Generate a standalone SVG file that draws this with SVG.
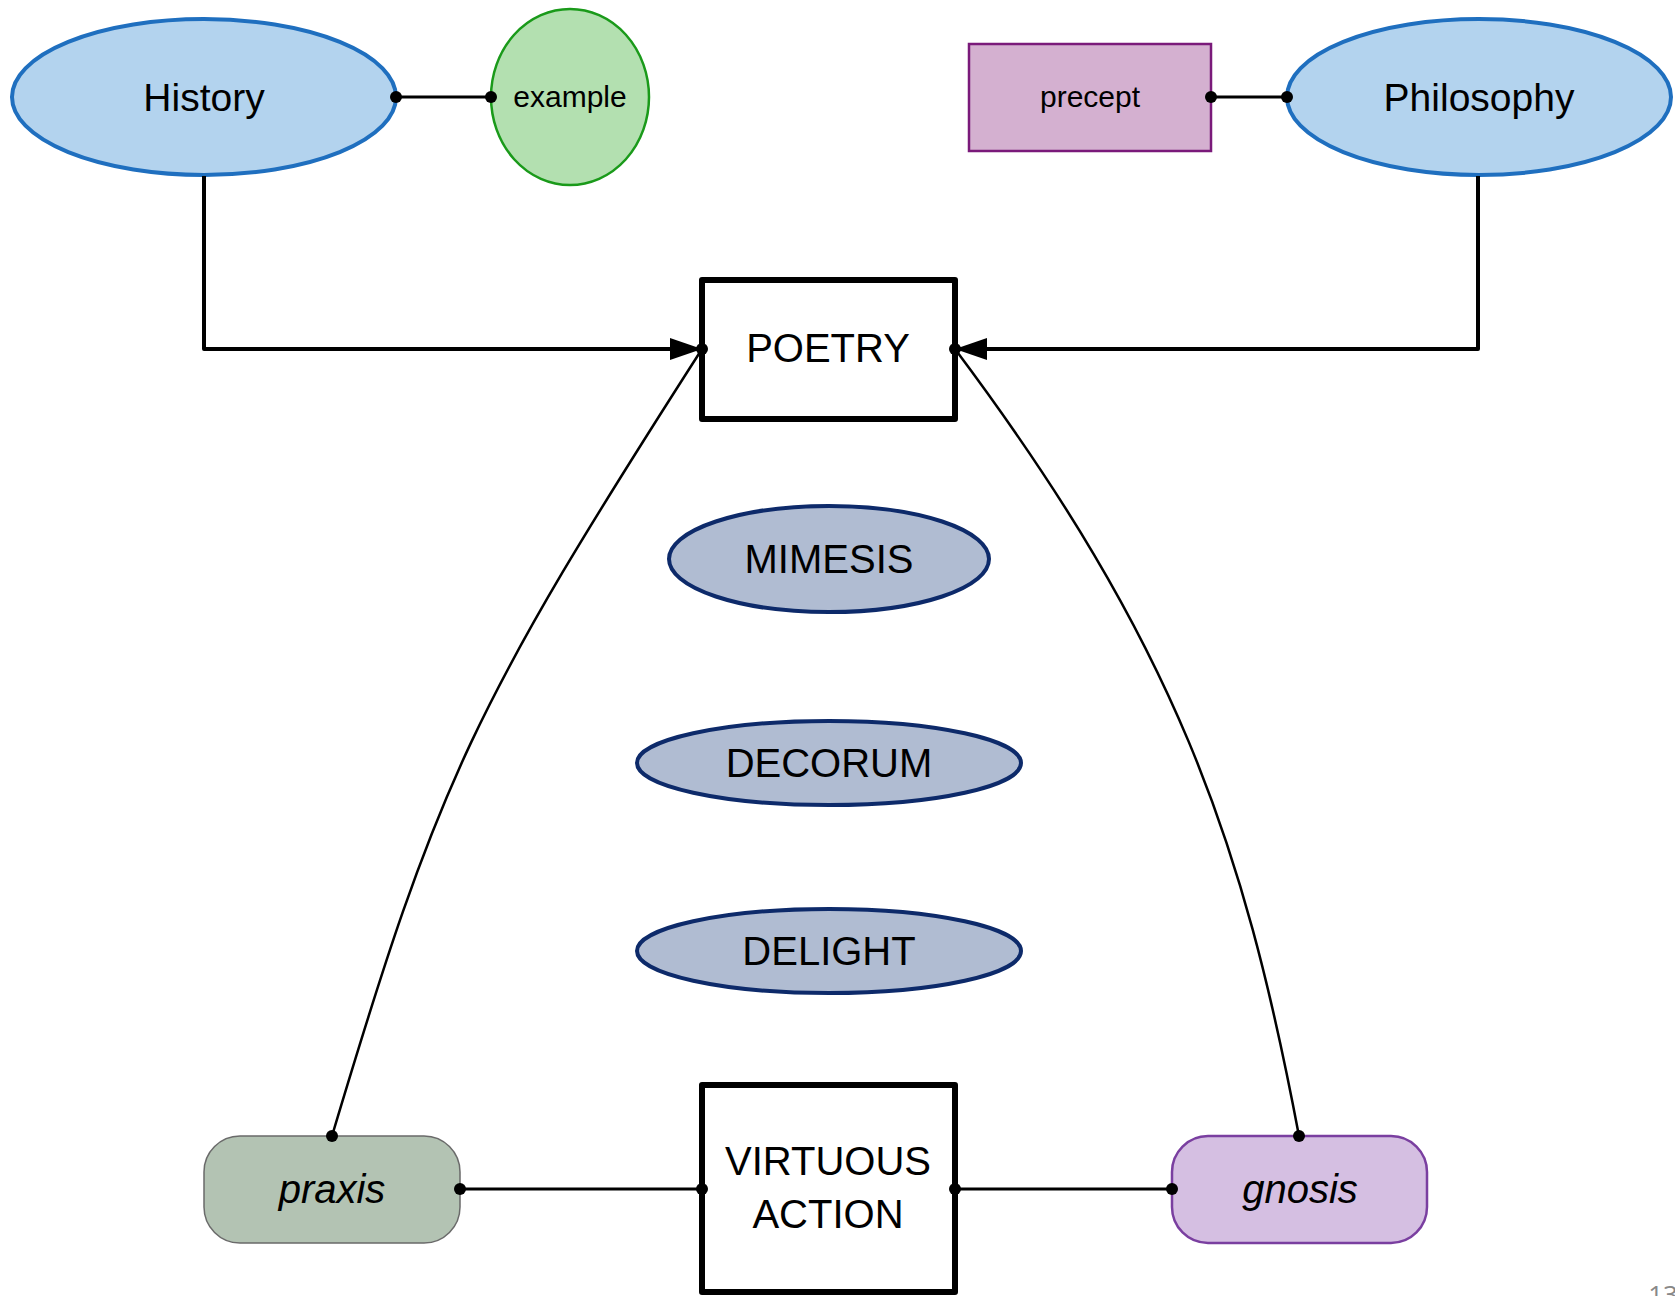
<svg xmlns="http://www.w3.org/2000/svg" width="1675" height="1296" viewBox="0 0 1675 1296">
<style>
text{font-family:"Liberation Sans",Arial,sans-serif;fill:#000;text-anchor:middle}
.main{fill:#b3d3ee;stroke:#1f6fbf;stroke-width:4}
.concept{fill:#b0bcd2;stroke:#0d2a6a;stroke-width:4}
.box{fill:#fff;stroke:#000;stroke-width:6;stroke-linejoin:round}
.thick{fill:none;stroke:#000;stroke-width:4;stroke-linejoin:round}
.thin{fill:none;stroke:#000;stroke-width:3}
.curve{fill:none;stroke:#000;stroke-width:2.5}
.dot{fill:#000}
.big{font-size:39px}
.cap{font-size:40px}
.small{font-size:30px}
.it{font-size:40px;font-style:italic}
</style>
<defs>
<marker id="arr" markerUnits="userSpaceOnUse" markerWidth="32" markerHeight="24" refX="32" refY="12" orient="auto">
<path d="M0,1 L32,12 L0,23 z" fill="#000"/>
</marker>
</defs>
<rect width="1675" height="1296" fill="#fff"/>

<g id="history">
<ellipse class="main" cx="204" cy="97" rx="192" ry="78"/>
<text class="big" x="204" y="111">History</text>
</g>
<g id="example">
<ellipse cx="570" cy="97" rx="79" ry="88" fill="#b3e0b0" stroke="#1a9a1a" stroke-width="2.5"/>
<text class="small" x="570" y="107">example</text>
</g>
<g id="precept">
<rect x="969" y="44" width="242" height="107" fill="#d4b0d0" stroke="#7a1a7a" stroke-width="2.5"/>
<text class="small" x="1090" y="107">precept</text>
</g>
<g id="philosophy">
<ellipse class="main" cx="1479" cy="97" rx="192" ry="78"/>
<text class="big" x="1479" y="111">Philosophy</text>
</g>
<g id="poetry">
<rect class="box" x="702" y="280" width="253" height="139"/>
<text class="cap" x="828" y="362">POETRY</text>
</g>
<g id="mimesis">
<ellipse class="concept" cx="829" cy="559" rx="160" ry="53"/>
<text class="cap" x="829" y="573">MIMESIS</text>
</g>
<g id="decorum">
<ellipse class="concept" cx="829" cy="763" rx="192" ry="42"/>
<text class="cap" x="829" y="777">DECORUM</text>
</g>
<g id="delight">
<ellipse class="concept" cx="829" cy="951" rx="192" ry="42"/>
<text class="cap" x="829" y="965">DELIGHT</text>
</g>
<g id="virtuous-action">
<rect class="box" x="702" y="1085" width="253" height="207"/>
<text class="cap" x="828" y="1175">VIRTUOUS</text>
<text class="cap" x="828" y="1228">ACTION</text>
</g>
<g id="praxis">
<rect x="204" y="1136" width="256" height="107" rx="36" fill="#b3c3b3" stroke="#6a6a6a" stroke-width="1.5"/>
<text class="it" x="332" y="1203">praxis</text>
</g>
<g id="gnosis">
<rect x="1172" y="1136" width="255" height="107" rx="36" fill="#d5bfe2" stroke="#7a3fa0" stroke-width="2.5"/>
<text class="it" x="1300" y="1203">gnosis</text>
</g>

<g id="connectors">
<path class="thick" d="M204,176 V349 H702" marker-end="url(#arr)"/>
<path class="thick" d="M1478,176 V349 H955" marker-end="url(#arr)"/>
<line class="thin" x1="396" y1="97" x2="491" y2="97"/>
<line class="thin" x1="1211" y1="97" x2="1287" y2="97"/>
<path class="curve" d="M332,1136 C439,778 473,706 702,349"/>
<path class="curve" d="M1299,1136 C1243,840 1176,644 955,349"/>
<line class="thin" x1="460" y1="1189" x2="702" y2="1189"/>
<line class="thin" x1="955" y1="1189" x2="1172" y2="1189"/>
<circle class="dot" cx="396" cy="97" r="6"/>
<circle class="dot" cx="491" cy="97" r="6"/>
<circle class="dot" cx="1211" cy="97" r="6"/>
<circle class="dot" cx="1287" cy="97" r="6"/>
<circle class="dot" cx="702" cy="349" r="6"/>
<circle class="dot" cx="955" cy="349" r="6"/>
<circle class="dot" cx="332" cy="1136" r="6"/>
<circle class="dot" cx="1299" cy="1136" r="6"/>
<circle class="dot" cx="460" cy="1189" r="6"/>
<circle class="dot" cx="702" cy="1189" r="6"/>
<circle class="dot" cx="955" cy="1189" r="6"/>
<circle class="dot" cx="1172" cy="1189" r="6"/>
</g>
<text x="1663" y="1304" style="font-family:'Open Sans',sans-serif;font-size:26px;fill:#888">13</text>
</svg>
